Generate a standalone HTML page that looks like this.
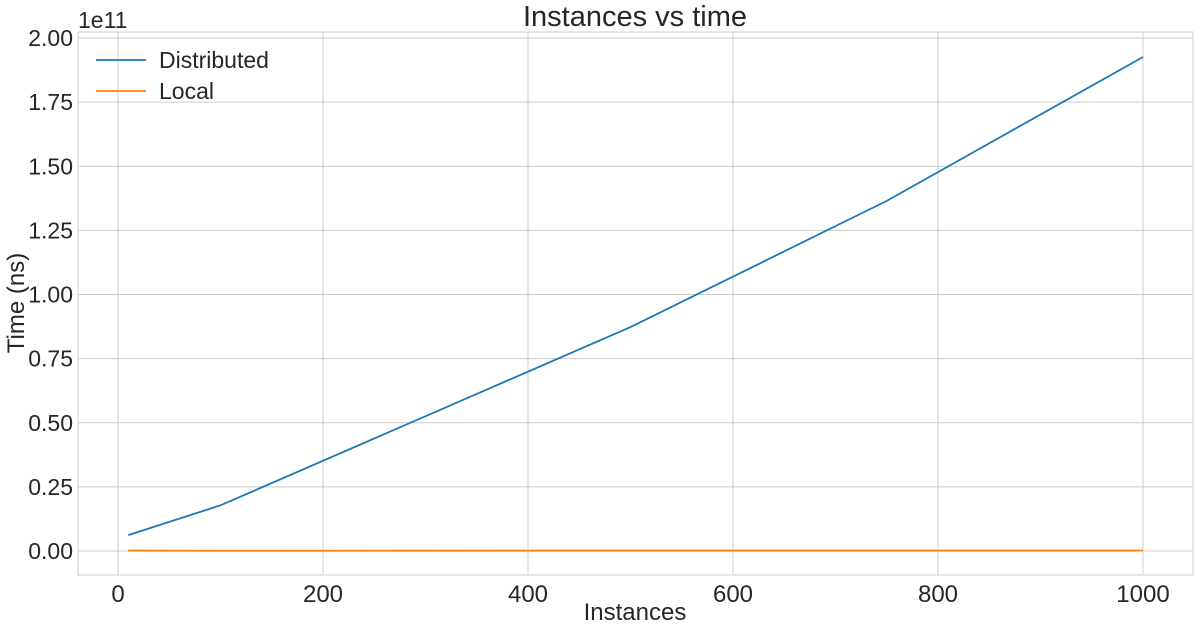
<!DOCTYPE html>
<html><head><meta charset="utf-8"><style>
html,body{margin:0;padding:0;background:#fff;}
svg text{font-family:"Liberation Sans",sans-serif;fill:#262626;}
</style></head><body>
<svg id="chart" width="1200" height="630" xmlns="http://www.w3.org/2000/svg">
<rect width="1200" height="630" fill="#fff"/>
<g id="grid"></g>
<rect x="78" y="32" width="1115" height="543" fill="none" stroke="#ccc" stroke-width="1"/>
<g id="ticks"></g>
<g id="series"></g>
<text x="635" y="26" font-size="29" text-anchor="middle">Instances vs time</text>
<text x="635" y="620" font-size="24" text-anchor="middle">Instances</text>
<text transform="translate(24,303) rotate(-90)" font-size="24" text-anchor="middle">Time (ns)</text>
<text x="78" y="28" font-size="23">1e11</text>
<g>
<line x1="96" y1="60" x2="146" y2="60" stroke="#1f77b4" stroke-width="1.8"/>
<text x="159" y="68" font-size="23">Distributed</text>
<line x1="96" y1="91" x2="146" y2="91" stroke="#ff7f0e" stroke-width="1.8"/>
<text x="159" y="99" font-size="23">Local</text>
</g>
</svg>
<script>
const instances = [10, 100, 500, 750, 1000];
const distributed = [0.062, 0.178, 0.873, 1.365, 1.926];
const local = [0.002, 0.001, 0.002, 0.002, 0.002];
const xTicks = [0, 200, 400, 600, 800, 1000];
const yTicks = [0, 0.25, 0.5, 0.75, 1.0, 1.25, 1.5, 1.75, 2.0];

const NS = "http://www.w3.org/2000/svg";
function xs(v){ return 118 + (v - 0) * 1.025; }
function ys(v){ return 551 - v * 256.5; }
function mk(tag, attrs, parent){ const e = document.createElementNS(NS, tag); for (const k in attrs) e.setAttribute(k, attrs[k]); parent.appendChild(e); return e; }
const grid = document.getElementById('grid'), ticks = document.getElementById('ticks'), series = document.getElementById('series');
xTicks.forEach(t => {
  const l = mk('line', {x1: xs(t), x2: xs(t), y1: 32, y2: 575, stroke: '#ccc', 'stroke-width': 1}, grid);
  
  
  const tx = mk('text', {x: xs(t), y: 602, 'font-size': 24, 'text-anchor': 'middle'}, ticks);
  tx.textContent = t;
  
  
});
yTicks.forEach(t => {
  const l = mk('line', {x1: 78, x2: 1193, y1: ys(t), y2: ys(t), stroke: '#ccc', 'stroke-width': 1}, grid);
  
  
  const tx = mk('text', {x: 73, y: ys(t) + 8, 'font-size': 23, 'text-anchor': 'end'}, ticks);
  tx.textContent = t.toFixed(2);
  
  
});
function line(vals, color, name){
  const p = mk('polyline', {points: instances.map((x, i) => xs(x) + ',' + ys(vals[i])).join(' '), fill: 'none', stroke: color, 'stroke-width': 1.8}, series);
  
  
}
line(distributed, '#1f77b4', 'distributed-line');
line(local, '#ff7f0e', 'local-line');
</script>
</body></html>
